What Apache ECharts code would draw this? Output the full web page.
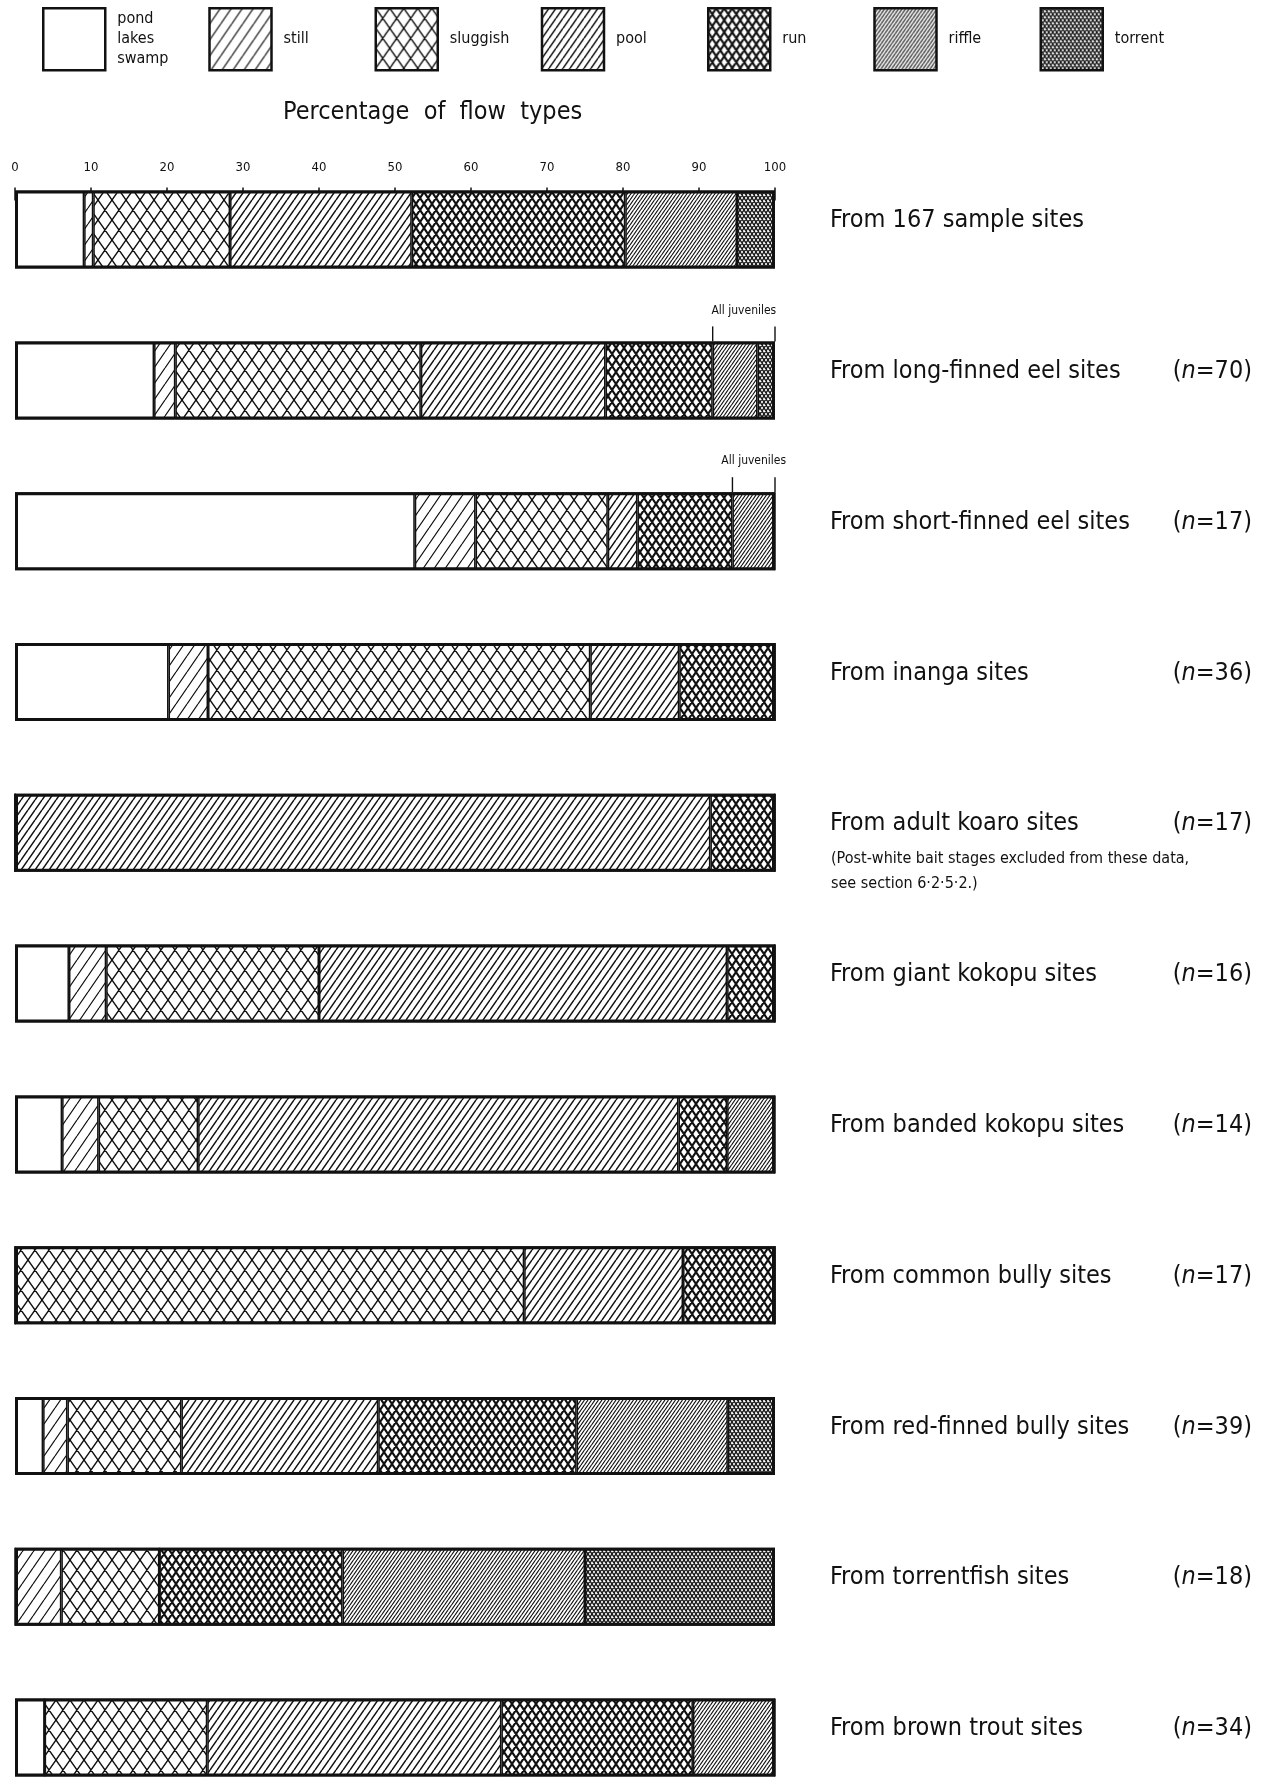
<!DOCTYPE html>
<html>
<head>
<meta charset="utf-8">
<script src="https://cdn.jsdelivr.net/npm/echarts/dist/echarts.min.js"></script>
<style>
html,body{margin:0;padding:0;background:#fff;}
#chart{width:1270px;height:1778px;}
</style>
</head>
<body>
<div id="chart"></div>
<script>
// ---- data ----
const categories = [
  'From 167 sample sites',
  'From long-finned eel sites',
  'From short-finned eel sites',
  'From inanga sites',
  'From adult koaro sites',
  'From giant kokopu sites',
  'From banded kokopu sites',
  'From common bully sites',
  'From red-finned bully sites',
  'From torrentfish sites',
  'From brown trout sites'
];
const nValues = ['', '70', '17', '36', '17', '16', '14', '17', '39', '18', '34'];
const flowTypes = ['pond', 'still', 'sluggish', 'pool', 'run', 'riffle', 'torrent'];
const pond     = [9.1, 18.3, 52.6, 20.2, 0,    7.1,  6.2,  0,    3.7,  0,    3.9];
const still    = [1.2, 2.8,  8.0,  5.2,  0,    4.9,  4.8,  0,    3.2,  6.1,  0];
const sluggish = [18.0, 32.3, 17.4, 50.3, 0,   28.0, 13.1, 67.0, 15.0, 12.9, 21.4];
const pool     = [23.9, 24.3, 3.9, 11.7, 91.5, 53.7, 63.2, 20.9, 25.9, 0,    38.7];
const run      = [28.1, 14.1, 12.5, 12.6, 8.5, 6.3,  6.4,  12.1, 26.1, 24.1, 25.2];
const riffle   = [14.7, 5.9,  5.6,  0,    0,    0,    6.3,  0,    19.9, 31.9, 10.8];
const torrent  = [5.0,  2.3,  0,    0,    0,    0,    0,    0,    6.2,  25.0, 0];
const xTicks = [0, 10, 20, 30, 40, 50, 60, 70, 80, 90, 100];
// "All juveniles" brackets: [row index, from %, to %]
const juvenileBrackets = [[1, 91.8, 100], [2, 94.4, 100]];
const noteText = ['(Post-white bait stages excluded from these data,', 'see section 6·2·5·2.)'];

const seriesValues = [pond, still, sluggish, pool, run, riffle, torrent];

// ---- hatch patterns ----
function hatch(W, n, H, lw, cross, color) {
  const c = document.createElement('canvas');
  c.width = W; c.height = H;
  const g = c.getContext('2d');
  g.fillStyle = '#fff';
  g.fillRect(0, 0, W, H);
  g.strokeStyle = color || '#111';
  g.lineWidth = lw;
  const s = W / n;
  g.beginPath();
  for (let k = -2; k <= n + 1; k++) {
    g.moveTo(k * s, H); g.lineTo(k * s + s, 0);
    if (cross) { g.moveTo(k * s, 0); g.lineTo(k * s + s, H); }
  }
  g.stroke();
  return { image: c, repeat: 'repeat' };
}
const fills = {
  pond: '#ffffff',
  still: hatch(11, 1, 16, 1.2, false),
  sluggish: hatch(14, 1, 20, 1.4, true),
  pool: hatch(7, 1, 10, 1.5, false),
  run: hatch(8, 1, 12, 2.1, true),
  riffle: hatch(7, 2, 5, 1.15, false),
  torrent: hatch(4, 1, 6, 1.4, true, '#1a1a1a')
};

const FONT = "'Liberation Sans Narrow', 'DejaVu Sans Condensed', 'Roboto Condensed', 'Liberation Sans', sans-serif";
const BAR_H = 78;

const series = flowTypes.map((name, i) => ({
  name: name,
  type: 'bar',
  stack: 'flow',
  barWidth: BAR_H,
  barGap: '-100%',
  xAxisIndex: 0,
  yAxisIndex: 0,
  silent: true,
  itemStyle: { color: fills[name], borderColor: '#111', borderWidth: 1.5 },
  data: seriesValues[i]
}));
const totals = categories.map((_, r) => seriesValues.reduce((a, arr) => a + arr[r], 0));
series.push({
  name: 'outline',
  type: 'bar',
  barWidth: BAR_H,
  barGap: '-100%',
  xAxisIndex: 0,
  yAxisIndex: 0,
  silent: true,
  z: 5,
  itemStyle: { color: 'rgba(0,0,0,0)', borderColor: '#111', borderWidth: 3 },
  data: totals
});
series.push({
  name: 'juveniles',
  type: 'custom',
  xAxisIndex: 0,
  yAxisIndex: 0,
  silent: true,
  z: 6,
  encode: { x: [1, 2], y: 0 },
  data: juvenileBrackets,
  renderItem: function (params, api) {
    const a = api.coord([api.value(1), api.value(0)]);
    const b = api.coord([api.value(2), api.value(0)]);
    const top = a[1] - BAR_H / 2;
    return {
      type: 'group',
      children: [
        { type: 'line', shape: { x1: a[0], y1: top, x2: a[0], y2: top - 15 }, style: { stroke: '#111', lineWidth: 1.4 } },
        { type: 'line', shape: { x1: b[0], y1: top, x2: b[0], y2: top - 15 }, style: { stroke: '#111', lineWidth: 1.4 } },
        { type: 'text', x: (a[0] + b[0]) / 2, y: top - 25,
          style: { text: 'All juveniles', fill: '#111', font: '12px ' + FONT, align: 'center', verticalAlign: 'bottom' } }
      ]
    };
  }
});

const chart = echarts.init(document.getElementById('chart'));
chart.setOption({
  backgroundColor: '#fff',
  animation: false,
  textStyle: { fontFamily: FONT, color: '#111' },
  title: {
    text: 'Percentage  of  flow  types',
    left: 278, top: 95,
    textStyle: { fontFamily: FONT, fontSize: 25, fontWeight: 'normal', color: '#111' }
  },
  legend: {
    data: flowTypes,
    left: 42, top: 7,
    padding: 0,
    icon: 'rect',
    itemWidth: 62, itemHeight: 62,
    itemGap: 1,
    selectedMode: false,
    itemStyle: { borderColor: '#111', borderWidth: 2.5 },
    formatter: function (name) { return name === 'pond' ? 'pond\nlakes\nswamp' : name; },
    textStyle: { fontFamily: FONT, fontSize: 16, lineHeight: 20, color: '#111', width: 90, padding: [0, 0, 0, 7] }
  },
  grid: [
    { left: 15, width: 760, top: 229.6, height: 1508 },
    { left: 15, width: 760, top: 190.6, height: 10 }
  ],
  xAxis: [
    { type: 'value', gridIndex: 0, min: 0, max: 100, show: false },
    { type: 'value', gridIndex: 1, min: 0, max: 100, interval: 10, position: 'top',
      axisLine: { show: false },
      splitLine: { show: false },
      axisTick: { show: true, length: 13, lineStyle: { color: '#111', width: 1.5 } },
      axisLabel: { margin: 16, fontSize: 13, color: '#111', fontFamily: FONT,
        formatter: function (v) { return xTicks.indexOf(v) >= 0 ? String(v) : ''; } }
    }
  ],
  yAxis: [
    { type: 'category', gridIndex: 0, data: categories, inverse: true, position: 'right', boundaryGap: false,
      axisLine: { show: false }, axisTick: { show: false }, splitLine: { show: false },
      axisLabel: { margin: 55, align: 'left', color: '#111', fontFamily: FONT,
        formatter: function (v) { return '{t|' + v + '}'; },
        rich: { t: { fontSize: 25, fontFamily: FONT, color: '#111', padding: [0, 0, 18, 0] } } } },
    { type: 'category', gridIndex: 0, data: nValues, inverse: true, position: 'right', boundaryGap: false,
      axisLine: { show: false }, axisTick: { show: false }, splitLine: { show: false },
      axisLabel: { margin: 477, align: 'right', color: '#111', fontFamily: FONT,
        formatter: function (v) { return v ? '{t|(}{i|n}{t|=' + v + ')}' : ''; },
        rich: {
          t: { fontSize: 25, fontFamily: FONT, color: '#111', padding: [0, 0, 18, 0] },
          i: { fontStyle: 'italic', fontSize: 25, fontFamily: FONT, color: '#111', padding: [0, 0, 18, 0] }
        } } },
    { type: 'value', gridIndex: 1, min: 0, max: 1, show: false }
  ],
  graphic: [
    { type: 'text', left: 831, top: 851, style: { text: noteText[0], font: '16px ' + FONT, fill: '#111' } },
    { type: 'text', left: 831, top: 876, style: { text: noteText[1], font: '16px ' + FONT, fill: '#111' } }
  ],
  series: series
});
</script>
</body>
</html>
